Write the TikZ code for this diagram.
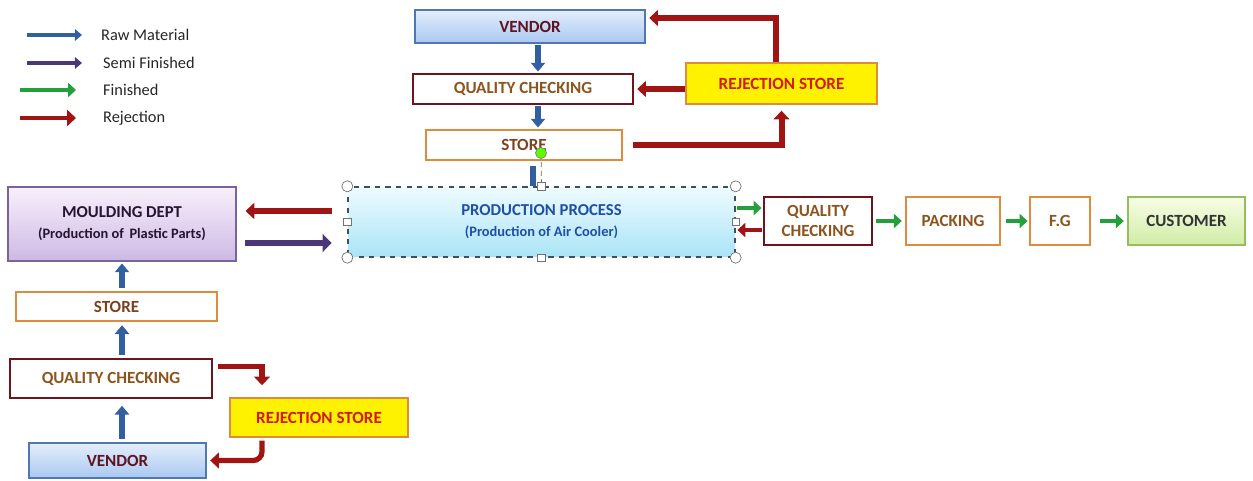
\documentclass[tikz,border=0pt]{standalone}
\usepackage{fontspec}
\setmainfont{Carlito}
\usetikzlibrary{arrows.meta,positioning,calc}

\definecolor{rawblue}{RGB}{50,95,160}
\definecolor{semipurple}{RGB}{75,55,120}
\definecolor{fingreen}{RGB}{35,160,60}
\definecolor{rejred}{RGB}{160,20,20}
\definecolor{qcborder}{RGB}{110,20,30}
\definecolor{orgborder}{RGB}{220,140,60}
\definecolor{browntext}{RGB}{140,85,30}
\definecolor{rejtext}{RGB}{210,25,20}

\begin{document}
\begin{tikzpicture}[
  x=0.02cm, y=-0.02cm,
  box/.style={rectangle, draw, thick, inner sep=1pt, align=center, text=browntext, font=\bfseries\fontsize{9.7}{11}\selectfont},
  vendor/.style={box, draw={rgb,255:red,80;green,120;blue,175}, top color={rgb,255:red,228;green,238;blue,252}, bottom color={rgb,255:red,170;green,200;blue,240}, text={rgb,255:red,95;green,20;blue,35}},
  qcbox/.style={box, draw=qcborder, fill=white},
  storebox/.style={box, draw=orgborder, fill=white, text={rgb,255:red,125;green,65;blue,30}},
  rejbox/.style={box, draw=orgborder, fill=yellow, text=rejtext},
  legend/.style={anchor=west, font=\fontsize{9.3}{11}\selectfont, text=black!85},
  raw/.style={draw=rawblue, line width=3.2pt, -{Triangle[length=5pt,width=8pt]}},
  semi/.style={draw=semipurple, line width=3.6pt, -{Triangle[length=5pt,width=10pt]}},
  fin/.style={draw=fingreen, line width=2.8pt, -{Triangle[length=4.5pt,width=8pt]}},
  rej/.style={draw=rejred, line width=3.4pt, -{Triangle[length=5pt,width=9pt]}},
  handle/.style={draw=black!55, fill=white, thin}
]
  \useasboundingbox (0,0) rectangle (1253,480);

  % legend
  \node[legend] (lraw)  at (95,35)  {Raw Material};
  \node[legend] (lsemi) at (97,63)  {Semi Finished};
  \node[legend] (lfin)  at (97,90)  {Finished};
  \node[legend] (lrej)  at (97,118) {Rejection};
  \coordinate (lrawa)  at (27,35);
  \coordinate (lsemia) at (27,63);
  \coordinate (lfina)  at (20,90);
  \coordinate (lreja)  at (20,118);
  \draw[raw, line width=1.8pt, -{Triangle[length=4pt,width=6.5pt]}] (lrawa) -- ([xshift=-0.26cm]lraw.west);
  \draw[semi, line width=1.8pt, -{Triangle[length=4pt,width=6.5pt]}] (lsemia) -- ([xshift=-0.3cm]lsemi.west);
  \draw[fin, line width=2pt]  (lfina)  -- ([xshift=-0.42cm]lfin.west);
  \draw[rej, line width=2.6pt]  (lreja)  -- ([xshift=-0.42cm]lrej.west);

  % raw material side
  \node[vendor, minimum width=4.6cm, minimum height=0.66cm]   (vtop)  at (530,26.5) {VENDOR};
  \node[qcbox, minimum width=4.4cm, minimum height=0.6cm]     (qctop) at (523,89)   {QUALITY CHECKING};
  \node[storebox, minimum width=3.92cm, minimum height=0.6cm] (sttop) at (524,145)  {STORE};
  \node[rejbox, minimum width=3.82cm, minimum height=0.82cm]  (rjtop) at (781.5,83.5) {REJECTION STORE};

  \node[box, draw={rgb,255:red,60;green,80;blue,95}, dashed, minimum width=7.74cm, minimum height=1.4cm,
        top color={rgb,255:red,238;green,251;blue,255}, bottom color={rgb,255:red,170;green,228;blue,246},
        text={rgb,255:red,30;green,80;blue,165}, font=\bfseries\fontsize{9.5}{11}\selectfont]
        (prod) at (541.5,222) {PRODUCTION PROCESS\\[1pt]{\fontsize{8.2}{9.5}\selectfont (Production of Air Cooler)}};
  \node[box, draw={rgb,255:red,120;green,100;blue,155}, minimum width=4.56cm, minimum height=1.48cm,
        top color={rgb,255:red,248;green,240;blue,252}, bottom color={rgb,255:red,205;green,185;blue,228},
        text={rgb,255:red,40;green,20;blue,50}, font=\bfseries\fontsize{9.5}{11}\selectfont]
        (mould) at (122,224) {MOULDING DEPT\\[1pt]{\fontsize{8.2}{9.5}\selectfont (Production of\, Plastic Parts)}};

  \node[storebox, minimum width=4.02cm, minimum height=0.58cm] (stbot) at (116.5,306.5) {STORE};
  \node[qcbox, minimum width=4.04cm, minimum height=0.78cm]    (qcbot) at (111,378.5)   {QUALITY CHECKING};
  \node[rejbox, minimum width=3.56cm, minimum height=0.78cm]   (rjbot) at (319,417.5)   {REJECTION STORE};
  \node[vendor, minimum width=3.54cm, minimum height=0.7cm]    (vbot)  at (117.5,460.5) {VENDOR};

  % finished side
  \node[qcbox, minimum width=2.16cm, minimum height=0.96cm]    (qcr)  at (818,221)  {QUALITY\\CHECKING};
  \node[storebox, minimum width=1.88cm, minimum height=0.96cm, text=browntext] (pack) at (953,221) {PACKING};
  \node[storebox, minimum width=1.2cm, minimum height=0.96cm, text=browntext]  (fg)   at (1060,221) {F.G};
  \node[box, draw={rgb,255:red,150;green,190;blue,95}, minimum width=2.34cm, minimum height=0.96cm,
        top color={rgb,255:red,248;green,253;blue,230}, bottom color={rgb,255:red,208;green,236;blue,165},
        text=black!80] (cust) at (1186.5,221) {CUSTOMER};

  % selection handles round the production box
  \coordinate (grip) at (541,153);
  \coordinate (cols) at (533,0);
  \draw[black!60, densely dashed] (grip) -- (prod.north);
  \draw[rawblue, line width=3pt, shorten <=3pt] (sttop.south -| cols) -- (prod.north -| cols);
  \foreach \a in {north west, north east, south west, south east}
    \draw[handle] (prod.\a) circle (5.5);
  \foreach \a in {north, south, east, west}
    \node[handle, rectangle, minimum size=0.15cm, inner sep=0pt] at (prod.\a) {};
  \node[circle, draw=black!50, fill=green!65!yellow, minimum size=0.22cm, inner sep=0pt] (gripdot) at (grip) {};

  % connectors
  \coordinate (colt) at (538,0);
  \coordinate (colb) at (122,0);
  \coordinate (rowa) at (0,211);
  \coordinate (rowb) at (0,243);
  \coordinate (rowc) at (0,208);
  \coordinate (rowd) at (0,230);

  \draw[raw, shorten <=1pt, shorten >=1pt] (vtop.south -| colt) -- (qctop.north -| colt);
  \draw[raw, shorten <=1pt, shorten >=1pt] (qctop.south -| colt) -- (sttop.north -| colt);
  \draw[rej, shorten <=6pt] (sttop.east) -| ([yshift=-0.12cm]rjtop.south);
  \draw[rej, shorten >=2pt] (rjtop.west |- qctop) -- (qctop.east);
  \draw[rej, shorten >=2pt] ([xshift=-0.11cm]rjtop.north) |- ([yshift=0.17cm]vtop.east);

  \draw[rej, shorten <=9pt, shorten >=5pt] (prod.west |- rowa) -- (mould.east |- rowa);
  \draw[semi, shorten <=5pt, shorten >=9pt] (mould.east |- rowb) -- (prod.west |- rowb);
  \draw[fin, shorten <=1pt, shorten >=1pt] (prod.east |- rowc) -- (qcr.west |- rowc);
  \draw[rej, line width=2.8pt, -{Triangle[length=4.5pt,width=8pt]}, shorten <=1pt, shorten >=1pt] (qcr.west |- rowd) -- (prod.east |- rowd);
  \draw[fin, shorten <=2pt, shorten >=2pt] (qcr) -- (pack);
  \draw[fin, shorten <=3pt, shorten >=1pt] (pack) -- (fg);
  \draw[fin, shorten <=5pt, shorten >=2pt] (fg) -- (cust);

  \draw[raw, shorten <=2pt, shorten >=4pt] (vbot.north -| colb) -- (qcbot.south -| colb);
  \draw[raw, shorten <=2pt, shorten >=2pt] (qcbot.north -| colb) -- (stbot.south -| colb);
  \draw[raw, shorten <=2pt, shorten >=1pt] (stbot.north -| colb) -- (mould.south -| colb);
  \draw[rej, line width=3pt, shorten <=3pt] ([yshift=0.24cm]qcbot.east) -| ([xshift=-1.14cm,yshift=0.24cm]rjbot.north);
  \draw[rej, line width=3pt, rounded corners=5pt, shorten >=2pt] ([xshift=-1.14cm,yshift=-0.06cm]rjbot.south) |- (vbot.east);
\end{tikzpicture}
\end{document}
